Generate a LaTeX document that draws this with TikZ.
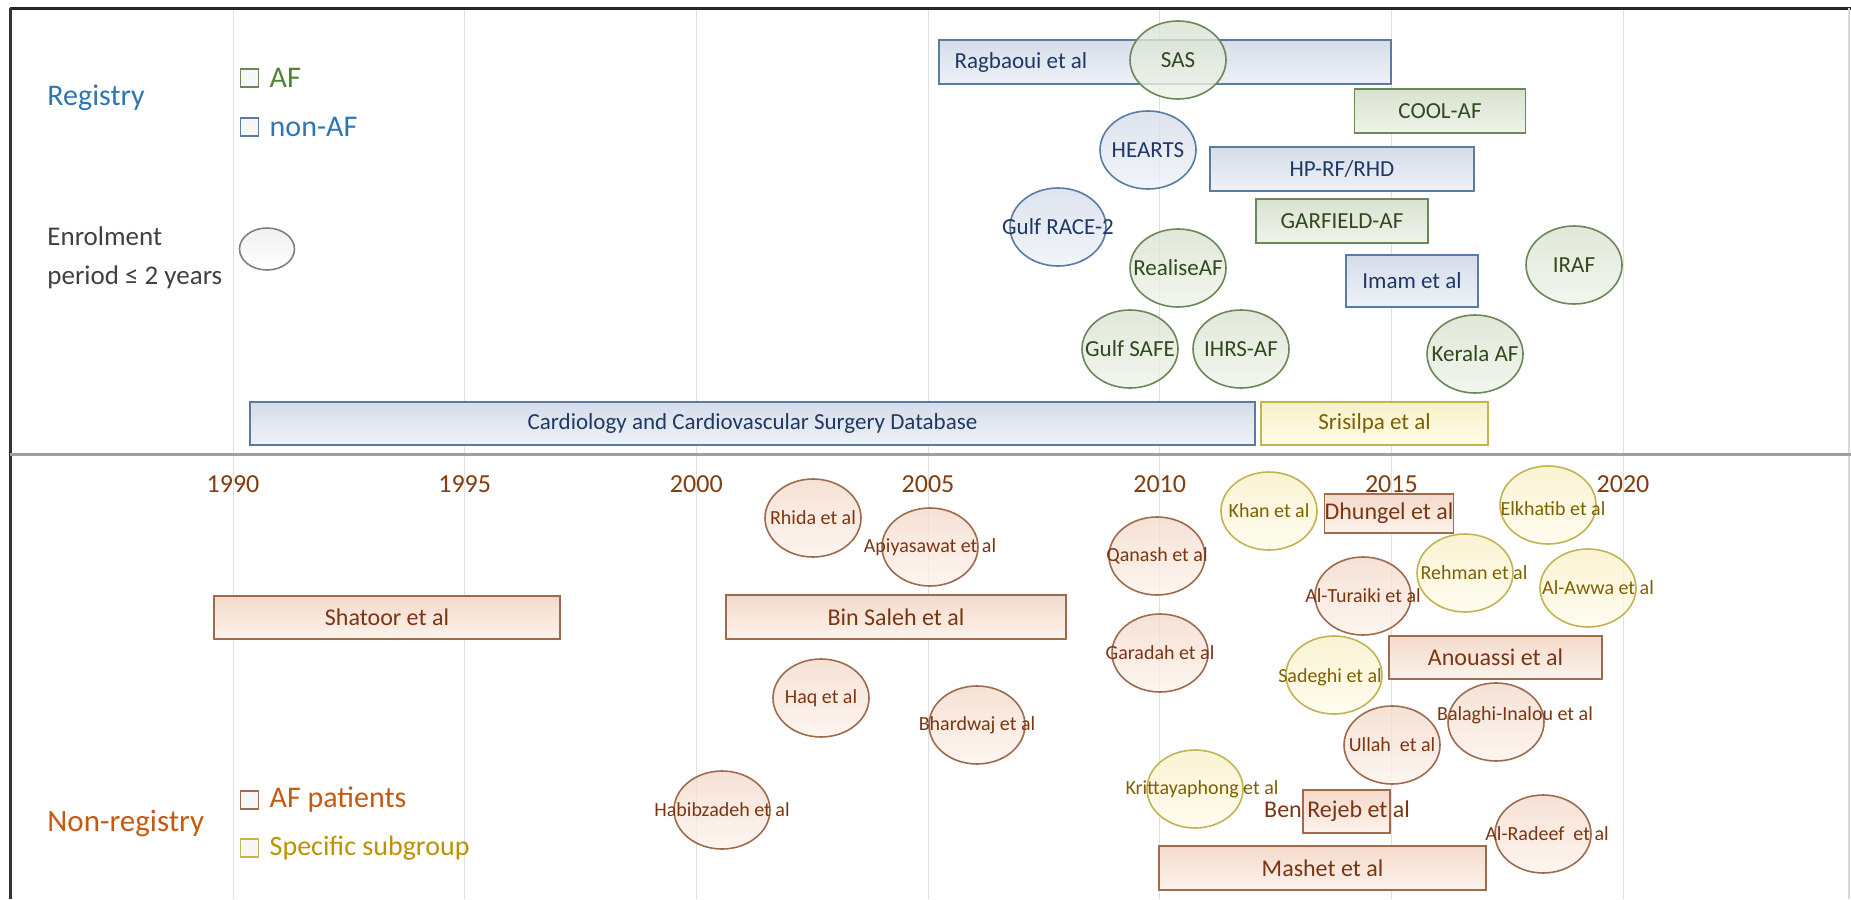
\documentclass[tikz,border=0pt]{standalone}
\usepackage{fontspec}
\setmainfont{Carlito}
\usetikzlibrary{positioning,shapes.geometric}

\definecolor{regblue}{HTML}{2E75B6}
\definecolor{afgreen}{HTML}{548235}
\definecolor{enrolgray}{HTML}{404040}
\definecolor{nonorange}{HTML}{C55A11}
\definecolor{subgold}{HTML}{BF9000}
\definecolor{yearbrown}{HTML}{843C0C}
\definecolor{nafline}{HTML}{5A7BA3}
\definecolor{naftop}{HTML}{D5DDEA}
\definecolor{nafbot}{HTML}{EEF2F8}
\definecolor{naftext}{HTML}{1F3864}
\definecolor{afline}{HTML}{6C8758}
\definecolor{aftop}{HTML}{D9E2D0}
\definecolor{afbot}{HTML}{EFF4EA}
\definecolor{aftext}{HTML}{2F4A1F}
\definecolor{patline}{HTML}{9E6B4F}
\definecolor{pattop}{HTML}{F3DACB}
\definecolor{patbot}{HTML}{FDF3EC}
\definecolor{pattext}{HTML}{7B3511}
\definecolor{subline}{HTML}{C2B453}
\definecolor{subtop}{HTML}{F8F0C8}
\definecolor{subbot}{HTML}{FFFCEB}
\definecolor{subtext}{HTML}{7F6000}

\tikzset{%
gridline/.style={gray!25,line width=0.5pt},
year/.style={font=\fontsize{13}{15}\selectfont,text=yearbrown},
bar/.style={rectangle,minimum height=22pt,inner sep=0,line width=0.8pt,font=\fontsize{12}{14}\selectfont},
bubble/.style={ellipse,minimum width=48pt,minimum height=39pt,inner sep=0,line width=0.8pt,fill opacity=0.8},
naf/.style={draw=nafline,top color=naftop,bottom color=nafbot,text=naftext},
af/.style={draw=afline,top color=aftop,bottom color=afbot,text=aftext},
pat/.style={draw=patline,top color=pattop,bottom color=patbot,text=pattext},
sub/.style={draw=subline,top color=subtop,bottom color=subbot,text=subtext},
regtxt/.style={font=\fontsize{11.5}{13}\selectfont,inner sep=0,text opacity=1},
nontxt/.style={font=\fontsize{10}{12}\selectfont,inner sep=0,text opacity=1},
nafbub/.style={bubble,naf,label={[regtxt,text=naftext]center:#1}},
afbub/.style={bubble,af,label={[regtxt,text=aftext]center:#1}},
patbub/.style={bubble,pat,label={[nontxt,text=pattext]center:#1}},
subbub/.style={bubble,sub,label={[nontxt,text=subtext]center:#1}},
keybox/.style={draw,fill=gray!6,minimum size=9pt,inner sep=0,line width=0.8pt},
keytxt/.style={inner sep=1pt,anchor=west,font=\fontsize{15}{18}\selectfont}
}

\begin{document}
\begin{tikzpicture}[x=0.5pt,y=-0.5pt]
  \useasboundingbox (0,0) rectangle (1851,899);

  % years
  \foreach \yr [count=\i from 0] in {1990,1995,...,2020} {
    \draw[gridline] ({233+231.67*\i},10) -- ({233+231.67*\i},899);
    \node[year] (y\yr) at ({233+231.67*\i},484) {\yr};
  }

  % frame
  \draw[line width=1.5pt,black!85] (10,8.5) -- (1851,8.5);
  \draw[line width=1.5pt,black!80] (10.5,8) -- (10.5,899);
  \draw[line width=0.75pt,gray!30] (1849,8) -- (1849,899);
  \draw[line width=1.5pt,gray!75] (10,454.5) -- (1851,454.5);

  % legend
  \node[keytxt,text=regblue] (registry) at (45,98) {Registry};
  \node[keybox,draw=afline] (keyaf) at (249.5,78) {};
  \node[keytxt,text=afgreen,right=4pt of keyaf] (keyaftxt) {AF};
  \node[keybox,draw=nafline] (keynaf) at (249.5,127) {};
  \node[keytxt,text=regblue,right=4pt of keynaf] (keynaftxt) {non-AF};
  \node[anchor=west,align=left,inner sep=1pt,text=enrolgray,font=\fontsize{13.5}{19.5}\selectfont] (enrol) at (45,258) {Enrolment\\period ≤ 2 years};
  \node[ellipse,draw=gray,line width=0.8pt,top color=gray!12,bottom color=white,minimum width=27.5pt,minimum height=21pt,inner sep=0] (keyshort) at (267,249) {};

  \node[keytxt,text=nonorange,font=\fontsize{15.5}{18}\selectfont] (nonreg) at (45,823) {Non-registry};
  \node[keybox,draw=patline] (keypat) at (249.5,800) {};
  \node[keytxt,text=nonorange,right=4pt of keypat] (keypattxt) {AF patients};
  \node[keybox,draw=subline] (keysub) at (249.5,848) {};
  \node[keytxt,text=subgold,font=\fontsize{14}{17}\selectfont,right=4pt of keysub] (keysubtxt) {Specific subgroup};

  % registries
  \node[bar,naf,minimum width=226pt,label={[regtxt,text=naftext,anchor=west,xshift=8pt]west:Ragbaoui et al}] (ragbaoui) at (1165,62) {};
  \node[afbub=SAS] (sas) at (1178,60) {};
  \node[bar,af,minimum width=85.5pt,font=\fontsize{11.5}{13}\selectfont] (coolaf) at (1440,111) {COOL-AF};
  \node[nafbub=HEARTS] (hearts) at (1148,150) {};
  \node[bar,naf,minimum width=132pt,font=\fontsize{11.5}{13}\selectfont] (hprf) at (1342,169) {HP-RF/RHD};
  \node[nafbub=Gulf RACE-2] (gulfrace) at (1058,227) {};
  \node[bar,af,minimum width=86pt,font=\fontsize{11.5}{13}\selectfont] (garfield) at (1342,221) {GARFIELD-AF};
  \node[afbub=RealiseAF] (realise) at (1178,268) {};
  \node[bar,naf,minimum width=66pt,minimum height=26pt,font=\fontsize{11.5}{13}\selectfont] (imam) at (1412,281) {Imam et al};
  \node[afbub=IRAF] (iraf) at (1574,265) {};
  \node[afbub=Gulf SAFE] (gulfsafe) at (1130,349) {};
  \node[afbub=IHRS-AF] (ihrs) at (1241,349) {};
  \node[afbub=Kerala AF] (kerala) at (1475,354) {};
  \node[bar,naf,minimum width=502.5pt,minimum height=21.5pt,font=\fontsize{11.5}{13}\selectfont] (cardio) at (752.5,423.5) {Cardiology and Cardiovascular Surgery Database};
  \node[bar,sub,minimum width=113.5pt,minimum height=21.5pt,font=\fontsize{11.5}{13}\selectfont] (srisilpa) at (1374.5,423.5) {Srisilpa et al};

  % non-registry studies
  \node[bar,pat,minimum width=173pt,minimum height=21.5pt] (shatoor) at (387,617.5) {Shatoor et al};
  \node[bar,pat,minimum width=170pt] (binsaleh) at (896,617) {Bin Saleh et al};
  \node[patbub=Rhida et al] (rhida) at (813,518) {};
  \node[patbub=Apiyasawat et al] (apiyasawat) at (930,547) {};
  \node[patbub=Qanash et al] (qanash) at (1157,556) {};
  \node[patbub=Haq et al] (haq) at (821,698) {};
  \node[patbub=Garadah et al] (garadah) at (1160,653) {};
  \node[patbub=Bhardwaj et al] (bhardwaj) at (977,725) {};
  \node[patbub=Habibzadeh et al] (habibzadeh) at (722,810) {};
  \node[bubble,sub,label={[nontxt,text=subtext,xshift=3.5pt]center:Krittayaphong et al}] (krittaya) at (1195,789) {};
  \node[bar,pat,minimum width=163.5pt] (mashet) at (1322.5,868) {Mashet et al};
  \node[subbub=Khan et al] (khan) at (1269,511) {};
  \node[bar,pat,minimum width=64pt,minimum height=19.5pt] (dhungel) at (1389,513.5) {Dhungel et al};
  \node[bubble,sub,label={[nontxt,text=subtext,xshift=2.5pt,yshift=-2pt]center:Elkhatib et al}] (elkhatib) at (1548,505) {};
  \node[patbub=Al-Turaiki et al] (alturaiki) at (1363,596) {};
  \node[bubble,sub,label={[nontxt,text=subtext,xshift=4.5pt]center:Rehman et al}] (rehman) at (1465,573) {};
  \node[bubble,sub,label={[nontxt,text=subtext,xshift=5pt]center:Al-Awwa et al}] (alawwa) at (1588,588) {};
  \node[bar,pat,minimum width=106.5pt,minimum height=21.5pt] (anouassi) at (1495.5,657.5) {Anouassi et al};
  \node[bubble,sub,label={[nontxt,text=subtext,xshift=-2pt,yshift=-1pt]center:Sadeghi et al}] (sadeghi) at (1334,675) {};
  \node[patbub=Ullah~ et al] (ullah) at (1392,745) {};
  \node[bubble,pat,label={[nontxt,text=pattext,xshift=9.5pt,yshift=3.5pt]center:Balaghi-Inalou et al}] (balaghi) at (1496,722) {};
  \node[bar,pat,minimum width=43.5pt,minimum height=21.5pt,label={[inner sep=0,text opacity=1,text=pattext,font=\fontsize{12}{14}\selectfont,xshift=-4.75pt]center:Ben Rejeb et al}] (benrejeb) at (1346.5,811.5) {};
  \node[bubble,pat,label={[nontxt,text=pattext,xshift=2pt]center:Al-Radeef~ et al}] (alradeef) at (1543,834) {};

\end{tikzpicture}
\end{document}
